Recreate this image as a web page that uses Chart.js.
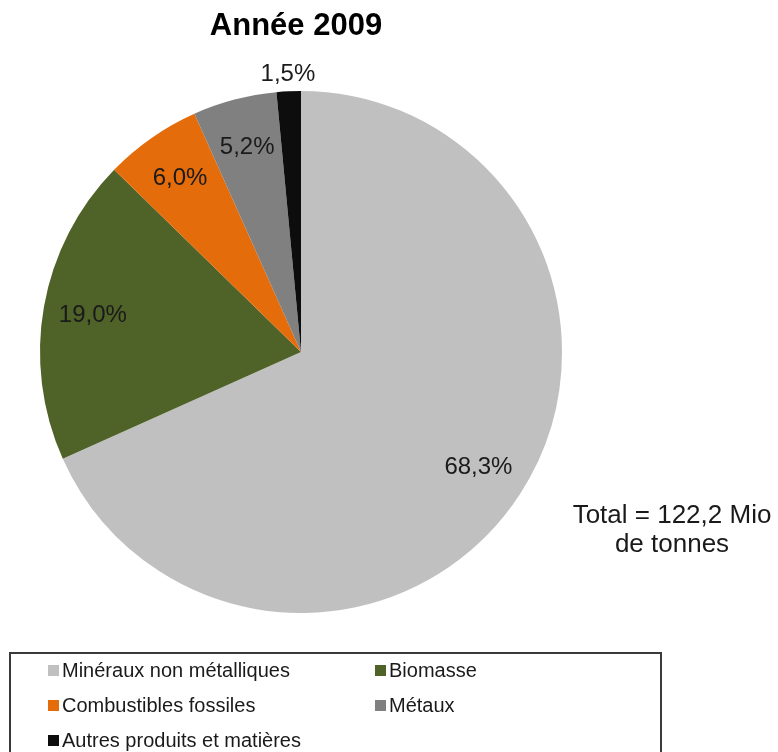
<!DOCTYPE html>
<html>
<head>
<meta charset="utf-8">
<script src="https://cdn.jsdelivr.net/npm/chart.js@4"></script>
<style>
  html, body { margin: 0; padding: 0; background: #fff; }
  canvas { display: block; }
</style>
</head>
<body>
<canvas id="chart" width="778" height="752"></canvas>
<script>
// data
var categories = ["Minéraux non métalliques", "Biomasse", "Combustibles fossiles", "Métaux", "Autres produits et matières"];
var shares = [68.3, 19.0, 6.0, 5.2, 1.5];
var sliceColors = ["#c0c0c0", "#4f6228", "#e46c0a", "#808080", "#0d0d0d"];
var titleText = "Année 2009";
var totalLines = ["Total = 122,2 Mio", "de tonnes"];

function fmt(v) {
    return v.toFixed(1).replace(".", ",") + "%";
}

var extras = {
    id: "extras",
    afterDraw: function(chart) {
        var ctx = chart.ctx;
        ctx.save();
        // title
        ctx.fillStyle = "#000";
        ctx.font = "bold 31px 'Liberation Sans', Arial, sans-serif";
        ctx.textAlign = "center";
        ctx.textBaseline = "alphabetic";
        ctx.fillText(titleText, 296, 35);

        // slice labels
        var meta = chart.getDatasetMeta(0);
        ctx.font = "24px 'Liberation Sans', Arial, sans-serif";
        ctx.fillStyle = "#1a1a1a";
        ctx.textBaseline = "middle";
        meta.data.forEach(function(arc, i) {
            var p = arc.getProps(["x", "y", "startAngle", "endAngle", "outerRadius"], true);
            var mid = (p.startAngle + p.endAngle) / 2;
            var f = shares[i] < 3 ? 1.065 : 0.81;
            var x = p.x + Math.cos(mid) * p.outerRadius * f;
            var y = p.y + Math.sin(mid) * p.outerRadius * f;
            ctx.fillText(fmt(shares[i]), x, y);
        });

        // total note
        ctx.font = "26px 'Liberation Sans', Arial, sans-serif";
        ctx.textBaseline = "alphabetic";
        ctx.fillText(totalLines[0], 672, 523);
        ctx.fillText(totalLines[1], 672, 552);

        // legend box
        ctx.strokeStyle = "#3a3a3a";
        ctx.lineWidth = 2;
        ctx.strokeRect(10, 653, 651, 130);
        ctx.font = "20px 'Liberation Sans', Arial, sans-serif";
        ctx.textAlign = "left";
        ctx.textBaseline = "middle";
        var colX = [48, 375];
        var rowY = [670, 705, 740];
        categories.forEach(function(name, i) {
            var cx = colX[i % 2];
            var cy = rowY[Math.floor(i / 2)];
            ctx.fillStyle = sliceColors[i];
            ctx.fillRect(cx, cy - 5, 11, 11);
            ctx.fillStyle = "#1a1a1a";
            ctx.fillText(name, cx + 14, cy + 1);
        });
        ctx.restore();
    }
};

new Chart(document.getElementById("chart"), {
    type: "pie",
    data: {
        labels: categories,
        datasets: [{
            data: shares,
            backgroundColor: sliceColors,
            borderWidth: 0
        }]
    },
    options: {
        responsive: false,
        animation: false,
        layout: { padding: { left: 40, top: 91, right: 216, bottom: 139 } },
        plugins: {
            legend: { display: false },
            title: { display: false },
            tooltip: { enabled: false }
        }
    },
    plugins: [extras]
});
</script>
</body>
</html>
